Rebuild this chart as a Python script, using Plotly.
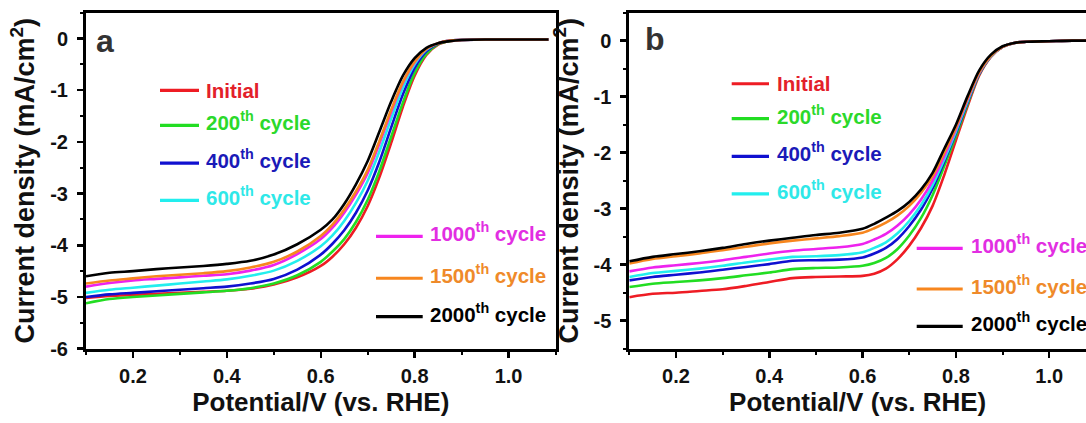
import plotly.graph_objects as go

# ---------------- data ----------------
series_names = ["Initial", "200<sup>th</sup> cycle", "400<sup>th</sup> cycle", "600<sup>th</sup> cycle",
                "1000<sup>th</sup> cycle", "1500<sup>th</sup> cycle", "2000<sup>th</sup> cycle"]
line_colors = ["#ee1c24", "#22dd22", "#1010d0", "#22eeee", "#ee22ee", "#f7861e", "#000000"]
text_colors = ["#e3202a", "#2bd92b", "#1a1ab8", "#2ee8e8", "#e22ee2", "#ef8a2a", "#000000"]

pot_a = [0.10, 0.15, 0.20, 0.25, 0.30, 0.35, 0.40, 0.45, 0.50, 0.55, 0.60, 0.625, 0.65, 0.675,
         0.70, 0.725, 0.75, 0.775, 0.80, 0.825, 0.85, 0.875, 0.90, 0.95, 1.00, 1.05, 1.085]
initial_a = [-5.02, -4.98, -4.96, -4.94, -4.92, -4.90, -4.88, -4.84, -4.76, -4.62, -4.40, -4.22, -3.98, -3.66,
             -3.24, -2.68, -2.02, -1.32, -0.72, -0.32, -0.12, -0.05, -0.03, -0.02, -0.02, -0.02, -0.02]
c200_a = [-5.12, -5.04, -5.00, -4.97, -4.94, -4.91, -4.88, -4.83, -4.74, -4.58, -4.32, -4.12, -3.88, -3.55,
          -3.12, -2.56, -1.90, -1.24, -0.67, -0.30, -0.11, -0.05, -0.03, -0.02, -0.02, -0.02, -0.02]
c400_a = [-5.00, -4.95, -4.92, -4.89, -4.86, -4.83, -4.80, -4.74, -4.65, -4.47, -4.18, -3.97, -3.71, -3.37,
          -2.94, -2.38, -1.72, -1.08, -0.57, -0.25, -0.10, -0.04, -0.03, -0.02, -0.02, -0.02, -0.02]
c600_a = [-4.92, -4.86, -4.82, -4.78, -4.74, -4.70, -4.66, -4.59, -4.49, -4.30, -4.02, -3.81, -3.53, -3.18,
          -2.75, -2.18, -1.55, -0.95, -0.50, -0.22, -0.09, -0.04, -0.03, -0.02, -0.02, -0.02, -0.02]
c1000_a = [-4.80, -4.73, -4.68, -4.65, -4.62, -4.59, -4.56, -4.49, -4.38, -4.17, -3.88, -3.66, -3.37, -3.02,
           -2.60, -2.03, -1.42, -0.86, -0.46, -0.20, -0.09, -0.04, -0.03, -0.02, -0.02, -0.02, -0.02]
c1500_a = [-4.74, -4.68, -4.64, -4.60, -4.57, -4.54, -4.50, -4.43, -4.32, -4.12, -3.82, -3.60, -3.31, -2.96,
           -2.54, -1.98, -1.38, -0.84, -0.45, -0.20, -0.09, -0.04, -0.03, -0.02, -0.02, -0.02, -0.02]
c2000_a = [-4.60, -4.53, -4.50, -4.46, -4.43, -4.40, -4.36, -4.30, -4.18, -3.98, -3.70, -3.50, -3.20, -2.82,
           -2.37, -1.80, -1.22, -0.72, -0.38, -0.18, -0.09, -0.05, -0.03, -0.02, -0.02, -0.02, -0.02]

pot_b = [0.10, 0.15, 0.20, 0.25, 0.30, 0.35, 0.40, 0.45, 0.50, 0.55, 0.60, 0.625, 0.65, 0.675, 0.70,
         0.725, 0.75, 0.775, 0.80, 0.825, 0.85, 0.875, 0.90, 0.925, 0.95, 1.00, 1.05, 1.10]
initial_b = [-4.58, -4.52, -4.50, -4.47, -4.44, -4.38, -4.31, -4.24, -4.22, -4.21, -4.20, -4.16, -4.07, -3.90, -3.66,
             -3.35, -2.95, -2.40, -1.78, -1.17, -0.62, -0.29, -0.11, -0.04, -0.02, -0.01, 0.0, 0.0]
c200_b = [-4.40, -4.34, -4.31, -4.28, -4.24, -4.19, -4.14, -4.08, -4.06, -4.05, -4.02, -3.97, -3.88, -3.72, -3.48,
          -3.17, -2.76, -2.24, -1.70, -1.13, -0.60, -0.28, -0.11, -0.04, -0.02, -0.01, 0.0, 0.0]
c400_b = [-4.28, -4.22, -4.18, -4.14, -4.09, -4.04, -3.99, -3.93, -3.92, -3.91, -3.87, -3.80, -3.70, -3.54, -3.31,
          -3.02, -2.64, -2.16, -1.65, -1.10, -0.59, -0.28, -0.11, -0.04, -0.02, -0.01, 0.0, 0.0]
c600_b = [-4.22, -4.15, -4.11, -4.07, -4.02, -3.96, -3.91, -3.86, -3.85, -3.83, -3.78, -3.70, -3.60, -3.44, -3.22,
          -2.94, -2.58, -2.12, -1.62, -1.08, -0.58, -0.28, -0.11, -0.04, -0.02, -0.01, 0.0, 0.0]
c1000_b = [-4.12, -4.05, -4.01, -3.97, -3.92, -3.86, -3.80, -3.75, -3.72, -3.69, -3.63, -3.55, -3.45, -3.30, -3.10,
           -2.84, -2.50, -2.06, -1.58, -1.05, -0.57, -0.27, -0.11, -0.04, -0.02, -0.01, 0.0, 0.0]
c1500_b = [-3.98, -3.90, -3.85, -3.80, -3.74, -3.68, -3.62, -3.57, -3.53, -3.49, -3.43, -3.35, -3.25, -3.12, -2.95,
           -2.72, -2.42, -2.00, -1.55, -1.03, -0.56, -0.27, -0.11, -0.04, -0.02, -0.01, 0.0, 0.0]
c2000_b = [-3.94, -3.86, -3.81, -3.76, -3.70, -3.63, -3.57, -3.52, -3.47, -3.43, -3.36, -3.27, -3.16, -3.04, -2.88,
           -2.66, -2.36, -1.93, -1.50, -0.99, -0.53, -0.25, -0.10, -0.04, -0.02, -0.01, 0.0, 0.0]

x_tickvals = [0.2, 0.4, 0.6, 0.8, 1.0]
x_ticktext = ["0.2", "0.4", "0.6", "0.8", "1.0"]
ya_tickvals = [-6, -5, -4, -3, -2, -1, 0]
ya_ticktext = ["-6", "-5", "-4", "-3", "-2", "-1", "0"]
yb_tickvals = [-5, -4, -3, -2, -1, 0]
yb_ticktext = ["-5", "-4", "-3", "-2", "-1", "0"]
panel_labels = ["a", "b"]
x_title = "Potential/V (vs. RHE)"
y_title = "Current density (mA/cm<sup>2</sup>)"

# ---------------- layout helpers ----------------
W, H = 1086, 423
FONT = "Liberation Sans, Arial, sans-serif"


def fx(px):
    return px / W


def fy(py):
    return 1 - py / H


fig = go.Figure()

series_a = [initial_a, c200_a, c400_a, c600_a, c1000_a, c1500_a, c2000_a]
series_b = [initial_b, c200_b, c400_b, c600_b, c1000_b, c1500_b, c2000_b]
for name, col, ya in zip(series_names, line_colors, series_a):
    fig.add_trace(go.Scatter(x=pot_a, y=ya, mode="lines", name=name, xaxis="x", yaxis="y",
                             line=dict(color=col, width=2.6, shape="spline", smoothing=0.8),
                             showlegend=False))
for name, col, yb in zip(series_names, line_colors, series_b):
    fig.add_trace(go.Scatter(x=pot_b, y=yb, mode="lines", name=name, xaxis="x2", yaxis="y2",
                             line=dict(color=col, width=2.6, shape="spline", smoothing=0.8),
                             showlegend=False))

tickfont = dict(family=FONT, size=20, color="#111", weight="bold")
titlefont = dict(family=FONT, size=26, color="#111", weight="bold")
ytitlefont = dict(family=FONT, size=27, color="#111", weight="bold")
ydom = [fy(358), fy(13)]


def xaxis(domain, rng, anchor, mirror):
    return dict(domain=domain, range=rng, anchor=anchor, showgrid=False, zeroline=False,
                showline=True, linecolor="black", linewidth=3, mirror=mirror,
                ticks="outside", ticklen=6, tickwidth=2.5, tickcolor="black",
                tickmode="array", tickvals=x_tickvals, ticktext=x_ticktext, tickfont=tickfont,
                ticklabelstandoff=1,
                minor=dict(ticks="outside", ticklen=3.5, tickwidth=2, tickcolor="black",
                           tickmode="linear", tick0=0.1, dtick=0.1),
                title=dict(text=x_title, font=titlefont, standoff=4))


def yaxis(rng, anchor, tv, tt, mirror):
    return dict(domain=ydom, range=rng, anchor=anchor, showgrid=False, zeroline=False,
                showline=True, linecolor="black", linewidth=3, mirror=mirror,
                ticks="outside", ticklen=6, tickwidth=2.5, tickcolor="black",
                tickmode="array", tickvals=tv, ticktext=tt, tickfont=tickfont,
                ticklabelstandoff=5,
                minor=dict(ticks="outside", ticklen=3.5, tickwidth=2, tickcolor="black",
                           tickmode="linear", tick0=0, dtick=0.5),
                title=dict(text=y_title, font=ytitlefont, standoff=8))


fig.update_layout(
    width=W, height=H, margin=dict(l=0, r=0, t=0, b=0),
    paper_bgcolor="white", plot_bgcolor="white",
    xaxis=xaxis([fx(86), fx(555.5)], [0.1, 1.1], "y", True),
    yaxis=yaxis([-6, 0.5], "x", ya_tickvals, ya_ticktext, True),
    xaxis2=xaxis([fx(629.3), 1.0], [0.1, 1.0788], "y2", True),
    yaxis2=yaxis([-5.5, 0.5], "x2", yb_tickvals, yb_ticktext, False),
)

# legend keys (line samples + coloured labels), two groups per panel
legend_groups = [
    # (line x0, line x1, text x, [row y], series indices)
    (160, 199, 204, [92.7, 128.7, 167.5, 205.7], [0, 1, 2, 3]),
    (376, 422.7, 428, [242.7, 285.7, 325], [4, 5, 6]),
    (731.7, 769, 775, [86, 121.7, 160.5, 199], [0, 1, 2, 3]),
    (916.7, 962.7, 969, [255, 296.7, 335], [4, 5, 6]),
]
shapes = []
annotations = []
for x0, x1, tx, rows, idxs in legend_groups:
    for py, i in zip(rows, idxs):
        shapes.append(dict(type="line", xref="paper", yref="paper", x0=fx(x0), x1=fx(x1),
                           y0=fy(py), y1=fy(py), line=dict(color=line_colors[i], width=3.2)))
        has_sup = "<sup>" in series_names[i]
        annotations.append(dict(text=series_names[i], xref="paper", yref="paper", x=fx(tx), y=fy(py),
                                xanchor="left", yanchor="middle", showarrow=False,
                                yshift=4 if has_sup else 0,
                                font=dict(family=FONT, size=20.5, color=text_colors[i], weight="bold")))

for lab, (px, py) in zip(panel_labels, [(105, 41.7), (655, 40)]):
    annotations.append(dict(text=lab, xref="paper", yref="paper", x=fx(px), y=fy(py),
                            xanchor="center", yanchor="middle", showarrow=False,
                            font=dict(family=FONT, size=32, color="#333333", weight="bold")))

fig.update_layout(shapes=shapes, annotations=annotations)
fig.write_html("out.html", config={"displayModeBar": False, "staticPlot": True},
               post_script="document.body.style.margin='0';document.body.style.overflow='hidden';")
